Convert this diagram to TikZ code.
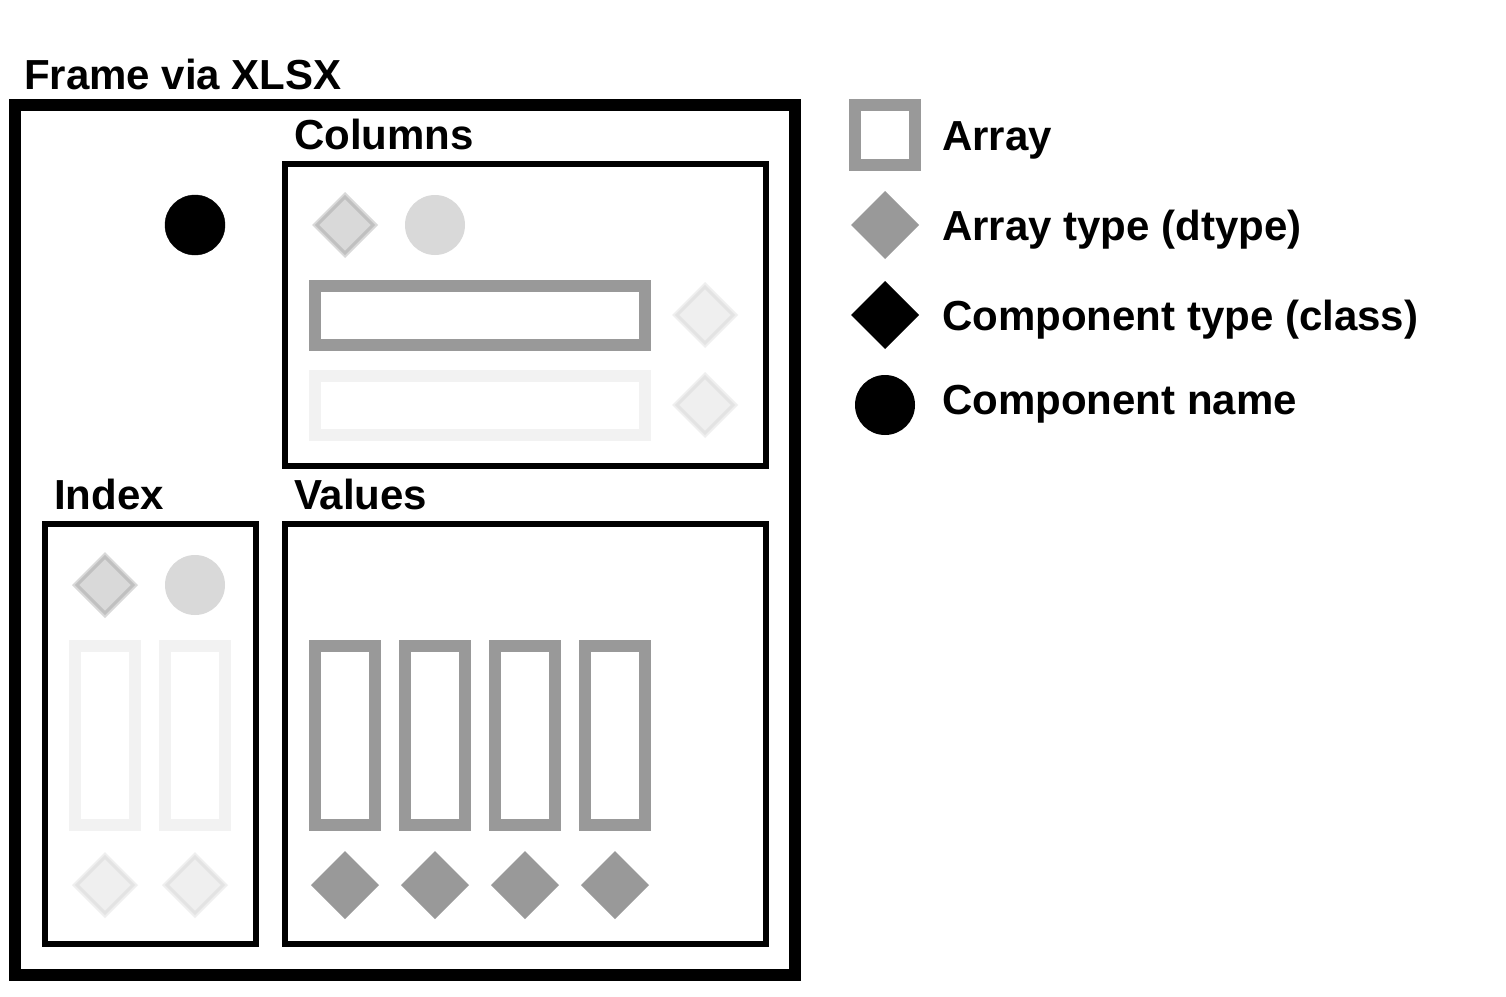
\documentclass[tikz,border=0pt]{standalone}
\usepackage{fontspec}
\setmainfont{Liberation Sans}
\usepackage{tikz}

\definecolor{arraygray}{HTML}{999999}
\definecolor{fadedgray}{HTML}{F2F2F2}
\definecolor{dtypelight}{HTML}{D9D9D9}
\definecolor{dtypeedge}{HTML}{C0C0C0}
\definecolor{ghostfill}{HTML}{EFEFEF}
\definecolor{ghostedge}{HTML}{E3E3E3}

\tikzset{
  label text/.style={anchor=base west, inner sep=0pt, font=\bfseries\fontsize{42}{50}\selectfont},
}

\begin{document}
\begin{tikzpicture}[x=1pt, y=-1pt]
 \path[use as bounding box, fill=white] (0,0) rectangle (1506,996);

% frame
\draw[line width=12pt] (15,105) rectangle (795,975);
\node[label text] (frametitle) at (24,89) {Frame via XLSX};

% columns
\draw[line width=5.5pt] (285,164) rectangle (766,466);
\node[label text] (columnstitle) at (294,149) {Columns};
% index
\draw[line width=5.5pt] (45,524) rectangle (256,944);
\node[label text] (indextitle) at (54,509) {Index};
% values
\draw[line width=5.5pt] (285,524) rectangle (766,944);
\node[label text] (valuestitle) at (294,509) {Values};

% component name of the frame
\filldraw[fill=black, draw=black] (195,225) circle [radius=30];

% columns: dtype, name, arrays
\fill[dtypelight] (345,225) ++(0,-33) -- ++(33,33) -- ++(-33,33) -- ++(-33,-33) -- cycle;
\draw[dtypeedge, line width=3pt] (345,225) ++(0,-28) -- ++(28,28) -- ++(-28,28) -- ++(-28,-28) -- cycle;
\fill[dtypelight] (435,225) circle [radius=30];
\draw[arraygray, line width=12pt] (315,286) rectangle (645,345);
\draw[fadedgray, line width=12pt] (315,376) rectangle (645,435);
\foreach \y in {315, 405}
{
	\fill[ghostfill] (705,\y) ++(0,-33) -- ++(33,33) -- ++(-33,33) -- ++(-33,-33) -- cycle;
	\draw[ghostedge, line width=3pt] (705,\y) ++(0,-28) -- ++(28,28) -- ++(-28,28) -- ++(-28,-28) -- cycle;
}

% index: dtype, name, arrays
\fill[dtypelight] (105,585) ++(0,-33) -- ++(33,33) -- ++(-33,33) -- ++(-33,-33) -- cycle;
\draw[dtypeedge, line width=3pt] (105,585) ++(0,-28) -- ++(28,28) -- ++(-28,28) -- ++(-28,-28) -- cycle;
\fill[dtypelight] (195,585) circle [radius=30];
\foreach \x in {75, 165}
{
	\draw[fadedgray, line width=12pt] (\x,646) rectangle (\x+60,825);
	\fill[ghostfill] (\x+30,885) ++(0,-33) -- ++(33,33) -- ++(-33,33) -- ++(-33,-33) -- cycle;
	\draw[ghostedge, line width=3pt] (\x+30,885) ++(0,-28) -- ++(28,28) -- ++(-28,28) -- ++(-28,-28) -- cycle;
}

% values: arrays and dtypes
\foreach \x in {315, 405, 495, 585}
{
	\draw[arraygray, line width=12pt] (\x,646) rectangle (\x+60,825);
	\fill[arraygray] (\x+30,885) ++(0,-34) -- ++(34,34) -- ++(-34,34) -- ++(-34,-34) -- cycle;
}

% legend
\draw[arraygray, line width=12pt] (855,105) rectangle (915,165);
\fill[arraygray] (885,225) ++(0,-34) -- ++(34,34) -- ++(-34,34) -- ++(-34,-34) -- cycle;
\fill[black] (885,315) ++(0,-34) -- ++(34,34) -- ++(-34,34) -- ++(-34,-34) -- cycle;
\fill[black] (885,405) circle [radius=30];

\node[label text] (arraykey) at (942,150) {Array};
\node[label text] (dtypekey) at (942,240) {Array type (dtype)};
\node[label text] (classkey) at (942,330) {Component type (class)};
\node[label text] (namekey) at (942,414) {Component name};

\end{tikzpicture}
\end{document}
